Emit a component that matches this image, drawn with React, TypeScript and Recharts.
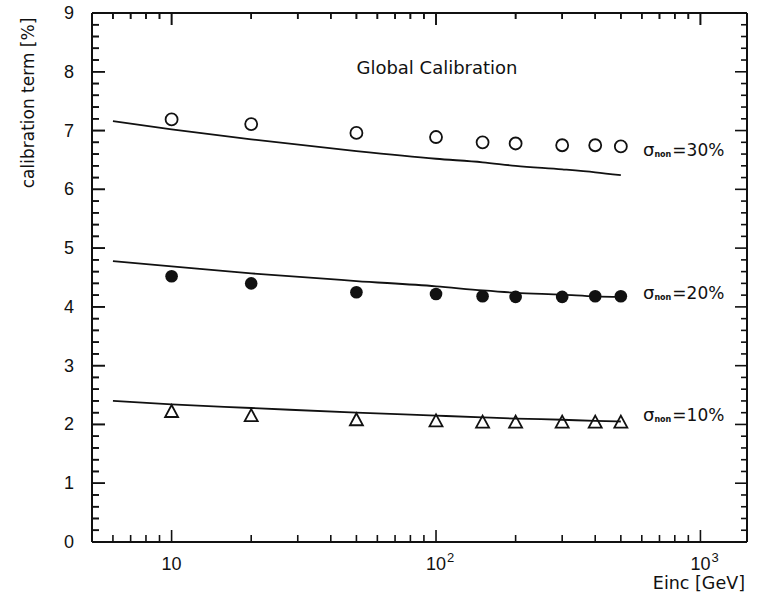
import React from 'react';
import { ComposedChart, Line, Scatter, XAxis, YAxis } from 'recharts';

// Measured points (incident energy in GeV)
const energies = [10, 20, 50, 100, 150, 200, 300, 400, 500];
const meas30 = [7.19, 7.11, 6.96, 6.89, 6.8, 6.78, 6.75, 6.75, 6.73];
const meas20 = [4.52, 4.4, 4.25, 4.22, 4.18, 4.17, 4.17, 4.18, 4.18];
const meas10 = [2.22, 2.15, 2.08, 2.06, 2.04, 2.04, 2.04, 2.04, 2.04];

// Fitted curves
const fitEnergies = [6, 10, 20, 50, 100, 150, 200, 300, 400, 500];
const fit30 = [7.16, 7.02, 6.85, 6.65, 6.52, 6.46, 6.4, 6.34, 6.29, 6.24];
const fit20 = [4.78, 4.69, 4.57, 4.44, 4.35, 4.28, 4.24, 4.21, 4.18, 4.17];
const fit10 = [2.4, 2.34, 2.28, 2.2, 2.15, 2.12, 2.1, 2.08, 2.06, 2.05];

// Axis ticks and labels
const xDomain = [5, 1500];
const yDomain = [0, 9];
const xMajorTicks = [10, 100, 1000];
const xMinorTicks = [6, 7, 8, 9, 20, 30, 40, 50, 60, 70, 80, 90, 200, 300, 400, 500, 600, 700, 800, 900];
const xTickBase: Record<number, string> = { 10: '10', 100: '10', 1000: '10' };
const xTickExp: Record<number, string> = { 10: '', 100: '2', 1000: '3' };
const yMajorTicks = [0, 1, 2, 3, 4, 5, 6, 7, 8, 9];
const yMinorStep = 0.2;

const seriesNames = ['30%', '20%', '10%'];
const title = 'Global Calibration';
const xTitle = 'Einc [GeV]';
const yTitle = 'calibration term [%]';

const rows = (xs: number[], ys: number[]) => xs.map((x, i) => ({ x, y: ys[i] }));

const xTicksAll = [...xMinorTicks, ...xMajorTicks].sort((a, b) => a - b);
const yTicksAll: number[] = [];
for (let i = 0; i <= Math.round(9 / yMinorStep); i++) yTicksAll.push(Math.round(i * yMinorStep * 10) / 10);

// Layout
const W = 759;
const H = 592;
const MARGIN = { top: 12, right: 11, bottom: 0, left: 0 };
const Y_AXIS_W = 92;
const X_AXIS_H = 50;
const TOP_AXIS_H = 1;
const RIGHT_AXIS_W = 1;
const PLOT_L = MARGIN.left + Y_AXIS_W;
const PLOT_R = W - MARGIN.right - RIGHT_AXIS_W;
const PLOT_T = MARGIN.top + TOP_AXIS_H;
const PLOT_B = H - MARGIN.bottom - X_AXIS_H;
// same mapping as the chart's log x scale and linear y scale (used for frame tick marks only)
const frameX = (v: number) =>
  PLOT_L + ((Math.log(v) - Math.log(xDomain[0])) / (Math.log(xDomain[1]) - Math.log(xDomain[0]))) * (PLOT_R - PLOT_L);
const frameY = (v: number) => PLOT_B - ((v - yDomain[0]) / (yDomain[1] - yDomain[0])) * (PLOT_B - PLOT_T);

const NUM_FONT = '"Liberation Sans", Arial, sans-serif';
const TXT_FONT = '"DejaVu Sans", sans-serif';
const INK = '#111';

const BottomTick = (props: any) => {
  const x = Number(props.x);
  const y = Number(props.y);
  const v = props.payload.value;
  const major = xMajorTicks.includes(v);
  const len = major ? 12 : 7;
  return (
    <g>
      <path d={`M${x},${y}V${y - len}`} stroke={INK} strokeWidth={1.6} fill="none" />
      {major && (
        <text x={x} y={y + 28} textAnchor="middle" fontFamily={NUM_FONT} fontSize={18} fill={INK}>
          {xTickBase[v]}
        </text>
      )}
      {major && xTickExp[v] && (
        <text x={x + 11} y={y + 20} textAnchor="start" fontFamily={NUM_FONT} fontSize={13} fill={INK}>
          {xTickExp[v]}
        </text>
      )}
    </g>
  );
};

const TopTick = (props: any) => {
  const x = Number(props.x);
  const y = Number(props.y);
  const major = xMajorTicks.includes(props.payload.value);
  const len = major ? 12 : 6;
  return <path d={`M${x},${y}V${y + len}`} stroke={INK} strokeWidth={1.6} fill="none" />;
};

const LeftTick = (props: any) => {
  const x = Number(props.x);
  const y = Number(props.y);
  const v = props.payload.value;
  const major = yMajorTicks.includes(v);
  const len = major ? 13 : 7;
  return (
    <g>
      <path d={`M${x},${y}H${x + len}`} stroke={INK} strokeWidth={1.6} fill="none" />
      {major && (
        <text x={x - 18} y={y} textAnchor="end" dominantBaseline="central" fontFamily={NUM_FONT} fontSize={18} fill={INK}>
          {v}
        </text>
      )}
    </g>
  );
};

const RightTick = (props: any) => {
  const x = Number(props.x);
  const y = Number(props.y);
  const major = yMajorTicks.includes(props.payload.value);
  const len = major ? 12 : 6;
  return <path d={`M${x},${y}H${x - len}`} stroke={INK} strokeWidth={1.6} fill="none" />;
};

const OpenCircle = (p: any) => (
  <circle cx={p.cx} cy={p.cy} r={6} fill="none" stroke={INK} strokeWidth={1.8} />
);
const FilledCircle = (p: any) => <circle cx={p.cx} cy={p.cy} r={6.3} fill={INK} />;
const OpenTriangle = (p: any) => (
  <polygon
    points={`${p.cx},${p.cy - 6.5} ${p.cx - 6.5},${p.cy + 5.5} ${p.cx + 6.5},${p.cy + 5.5}`}
    fill="none"
    stroke={INK}
    strokeWidth={1.8}
  />
);

const SigmaLabel = ({ x, y, pct }: { x: number; y: number; pct: string }) => (
  <text x={x} y={y} fontFamily={TXT_FONT} fill={INK}>
    <tspan fontSize={18}>σ</tspan>
    <tspan fontSize={8} dy={1} fontWeight="bold">non</tspan>
    <tspan fontSize={17} dy={-1} dx={1}>={pct}</tspan>
  </text>
);

const YAxisTexts = () => (
  <g>
    <text
      x={0}
      y={0}
      transform="translate(34,103) rotate(-90)"
      textAnchor="middle"
      fontFamily={TXT_FONT}
      fontSize={17}
      fill={INK}
    >
      {yTitle}
    </text>
    <text x={437} y={74} textAnchor="middle" fontFamily={TXT_FONT} fontSize={18} fill={INK}>
      {title}
    </text>
  </g>
);

const XAxisTexts = () => (
  <g>
    <text x={745} y={589} textAnchor="end" fontFamily={TXT_FONT} fontSize={17.5} fill={INK}>
      {xTitle}
    </text>
    <SigmaLabel x={643} y={156} pct={seriesNames[0]} />
    <SigmaLabel x={643} y={299} pct={seriesNames[1]} />
    <SigmaLabel x={643} y={421} pct={seriesNames[2]} />
  </g>
);

export default function App() {
  const axisLine = { stroke: INK, strokeWidth: 2 };
  return (
    <div style={{ position: 'absolute', left: 0, top: 0, width: W, height: H, background: '#fff' }}>
      <ComposedChart width={W} height={H} margin={MARGIN}>
        <XAxis
          xAxisId="b"
          dataKey="x"
          type="number"
          scale="log"
          domain={xDomain}
          allowDataOverflow
          ticks={xTicksAll}
          interval={0}
          height={X_AXIS_H}
          tickSize={0}
          tickMargin={0}
          tickLine={false}
          axisLine={axisLine}
          tick={BottomTick}
          label={XAxisTexts}
        />
        <XAxis
          xAxisId="t"
          orientation="top"
          dataKey="x"
          type="number"
          scale="log"
          domain={xDomain}
          allowDataOverflow
          ticks={xTicksAll}
          interval={0}
          height={TOP_AXIS_H}
          tickSize={0}
          tickMargin={0}
          tickLine={false}
          axisLine={axisLine}
          tick={TopTick}
        />
        <YAxis
          yAxisId="l"
          type="number"
          domain={yDomain}
          allowDataOverflow
          ticks={yTicksAll}
          interval={0}
          width={Y_AXIS_W}
          tickSize={0}
          tickMargin={0}
          tickLine={false}
          axisLine={axisLine}
          tick={LeftTick}
          label={YAxisTexts}
        />
        <YAxis
          yAxisId="r"
          orientation="right"
          type="number"
          domain={yDomain}
          allowDataOverflow
          ticks={yTicksAll}
          interval={0}
          width={RIGHT_AXIS_W}
          tickSize={0}
          tickMargin={0}
          tickLine={false}
          axisLine={axisLine}
          tick={RightTick}
        />
        <Line xAxisId="b" yAxisId="l" data={rows(fitEnergies, fit30)} dataKey="y" type="monotone" dot={false} stroke={INK} strokeWidth={1.8} isAnimationActive={false} />
        <Line xAxisId="b" yAxisId="l" data={rows(fitEnergies, fit20)} dataKey="y" type="monotone" dot={false} stroke={INK} strokeWidth={1.8} isAnimationActive={false} />
        <Line xAxisId="b" yAxisId="l" data={rows(fitEnergies, fit10)} dataKey="y" type="monotone" dot={false} stroke={INK} strokeWidth={1.8} isAnimationActive={false} />
        <Scatter xAxisId="b" yAxisId="l" data={rows(energies, meas30)} dataKey="y" shape={OpenCircle} isAnimationActive={false} />
        <Scatter xAxisId="b" yAxisId="l" data={rows(energies, meas20)} dataKey="y" shape={FilledCircle} isAnimationActive={false} />
        <Scatter xAxisId="b" yAxisId="l" data={rows(energies, meas10)} dataKey="y" shape={OpenTriangle} isAnimationActive={false} />
      </ComposedChart>
      {/* frame tick marks on the left and top edges, on top of the chart */}
      <svg width={W} height={H} style={{ position: 'absolute', left: 0, top: 0, pointerEvents: 'none' }}>
        {yTicksAll.map((v) => {
          const y = frameY(v);
          const len = yMajorTicks.includes(v) ? 13 : 7;
          return <path key={`l${v}`} d={`M${PLOT_L},${y}H${PLOT_L + len}`} stroke={INK} strokeWidth={1.6} fill="none" />;
        })}
        {xTicksAll.map((v) => {
          const x = frameX(v);
          const len = xMajorTicks.includes(v) ? 12 : 6;
          return <path key={`t${v}`} d={`M${x},${PLOT_T}V${PLOT_T + len}`} stroke={INK} strokeWidth={1.6} fill="none" />;
        })}
      </svg>
    </div>
  );
}
